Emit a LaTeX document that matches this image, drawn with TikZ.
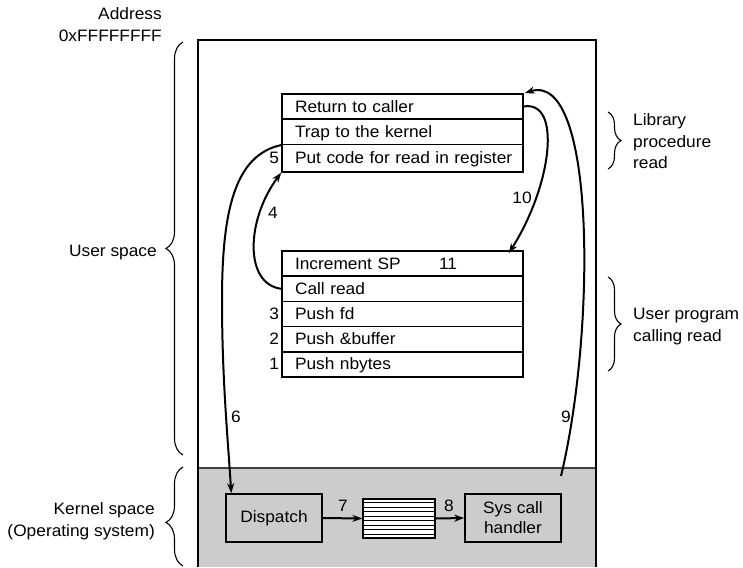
\documentclass[tikz,border=0pt]{standalone}
\usepackage{fontspec}
\setmainfont[FakeStretch=1.05]{Liberation Sans}
\usetikzlibrary{arrows.meta,decorations.pathreplacing,calc}
\begin{document}
\begin{tikzpicture}[x=1pt,y=-1pt,
  every node/.style={font=\fontsize{16.5}{20}\selectfont, inner sep=0pt},
  rowbox/.style={draw, line width=1.5pt, minimum width=241pt, minimum height=25.2pt,
    text width=215pt, inner xsep=13pt, align=left, text height=11pt, text depth=0pt},
  kbox/.style={draw, line width=1.5pt, fill=black!20, minimum width=96pt, minimum height=48pt, align=center},
  numlab/.style={text height=11pt, text depth=0pt},
  arr/.style={-{Stealth[length=10pt,width=7pt]}, line width=2pt},
  lbrace/.style={decorate, decoration={brace, amplitude=17pt}, line width=1.1pt},
  rbrace/.style={decorate, decoration={brace, amplitude=13pt}, line width=1.1pt}]
\useasboundingbox (0,0) rectangle (743,567);
% kernel background
\fill[black!20] (198,468) rectangle (596,567);
\draw[line width=1.2pt, black!75] (198,468) -- (596,468);
% outer frame
\draw[line width=1.8pt] (198,567) -- (198,40) -- (596,40) -- (596,567);

% library procedure
\node[rowbox] (ret) at (402.5,106.5) {Return to caller};
\node[rowbox] (trap) at (402.5,131.7) {Trap to the kernel};
\node[rowbox, minimum height=27.5pt] (put) at (402.5,158.1) {\mbox{Put code for read in register}};

% user program
\node[rowbox] (inc) at (402.5,263.6) {Increment SP};
\node[rowbox] (call) at (402.5,288.8) {Call read};
\node[rowbox] (pfd) at (402.5,314) {Push fd};
\node[rowbox] (pbuf) at (402.5,339.2) {Push \&buffer};
\node[rowbox] (pnb) at (402.5,364.4) {Push nbytes};

% kernel
\node[kbox] (disp) at (274,518) {Dispatch};
\node[kbox] (sch) at (513,518) {Sys call\\handler};
\node[draw, fill=white, line width=1.4pt, minimum width=72pt, minimum height=39pt] (tbl) at (399,518.5) {};
\foreach \i in {1,...,8}
  \draw[line width=1.3pt] ($(tbl.north west)!\i/9!(tbl.south west)$) -- ($(tbl.north east)!\i/9!(tbl.south east)$);

% arrows
\draw[arr] (disp.east) -- (tbl.west);
\draw[arr] (tbl.east) -- (sch.west);
\draw[arr] (trap.south west) .. controls (235,155) and (222,210) .. (222,300)
  .. controls (222,380) and (228,440) .. ([xshift=6pt]disp.north west);
\draw[arr] (call.west) .. controls (244,284) and (246,220) .. (put.south west);
\coordinate (t10) at ([xshift=-15pt,yshift=-3pt]inc.north east);
\draw[arr] (ret.east) .. controls (562,100) and (552,185) .. (t10);
\coordinate (s9) at (561,476);
\draw[arr] (s9) .. controls (596,330) and (596,70) .. ([xshift=1pt]ret.north east);

% step numbers
\node (l1) [numlab, anchor=east] at ([xshift=-2pt]pnb.west) {1};
\node (l2) [numlab, anchor=east] at ([xshift=-2pt]pbuf.west) {2};
\node (l3) [numlab, anchor=east] at ([xshift=-2pt]pfd.west) {3};
\node (l4) at (273,213) {4};
\node (l5) [numlab, anchor=east] at ([xshift=-2pt]put.west) {5};
\node (l6) at (236,417) {6};
\node (l7) at (343,506) {7};
\node (l8) at (449,506) {8};
\node (l9) at (566,417) {9};
\node (l10) at (522,198) {10};
\node (l11) [numlab] at (448,263.6) {11};

% left labels and braces
\node (addr) [anchor=base east] at (162,20) {Address};
\node (addrv) [anchor=base east] at (162,42) {0xFFFFFFFF};
\node (us) [anchor=base east] at (157,256) {User space};
\node (ks1) [anchor=base east] at (155,514) {Kernel space};
\node (ks2) [anchor=base east] at (155,536) {(Operating system)};
\draw[lbrace] (183,455) -- (183,42);
\draw[lbrace, decoration={aspect=0.44}] (183,566) -- (183,467);

% right labels and braces
\draw[rbrace] (608,112) -- (608,169);
\draw[rbrace] (608,277) -- (608,371);
\node (lib1) [anchor=base west] at (633,125) {Library};
\node (lib2) [anchor=base west] at (633,147) {procedure};
\node (lib3) [anchor=base west] at (633,168) {read};
\node (up1) [anchor=base west] at (633,319) {User program};
\node (up2) [anchor=base west] at (633,341) {calling read};
\end{tikzpicture}
\end{document}
